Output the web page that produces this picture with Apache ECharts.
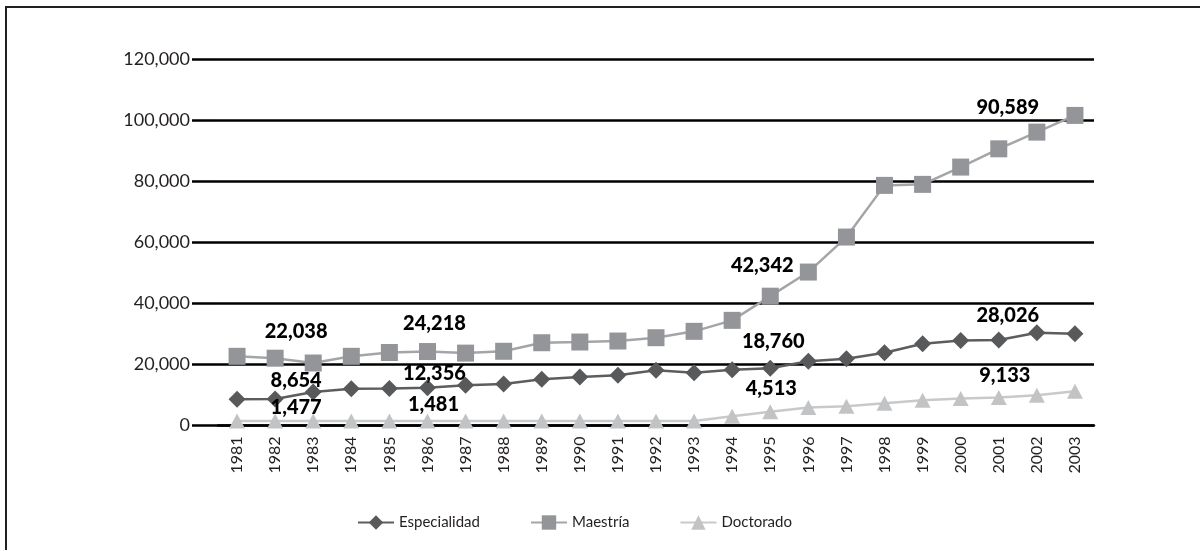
<!DOCTYPE html>
<html>
<head>
<meta charset="utf-8">
<script src="https://cdn.jsdelivr.net/npm/echarts@6/dist/echarts.min.js"></script>
<style>
  html, body { margin: 0; padding: 0; background: #fff; }
  #chart { width: 1200px; height: 550px; }
</style>
</head>
<body>
<div id="chart"></div>
<script>
// Years on the category axis
const years = ['1981','1982','1983','1984','1985','1986','1987','1988','1989','1990','1991','1992',
               '1993','1994','1995','1996','1997','1998','1999','2000','2001','2002','2003'];

// Enrolment by level
const especialidad = [8600, 8654, 10960, 12040, 12100, 12356, 13160, 13600, 15120, 15870, 16430, 18070,
                      17280, 18260, 18760, 21010, 21870, 23830, 26780, 27800, 28026, 30380, 30050];
const maestria = [22650, 22038, 20460, 22650, 23900, 24218, 23700, 24300, 27100, 27330, 27660, 28740,
                  30830, 34430, 42342, 50240, 61700, 78620, 78950, 84610, 90589, 96060, 101530];
const doctorado = [1450, 1477, 1460, 1470, 1475, 1481, 1470, 1480, 1490, 1485, 1490, 1495,
                   1500, 3000, 4513, 5900, 6300, 7300, 8300, 8800, 9133, 9900, 11200];

// Years whose values are printed on the chart
const labelledYears = ['1982', '1986', '1995', '2001'];

// Y-axis ticks
const yMin = 0, yMax = 120000, yStep = 20000;

// Placement of the printed values (pixel offset of the text centre from the marker)
const labelOffsets = {
  'Especialidad': { '1982': [21, -19], '1986': [7, -14], '1995': [3, -27], '2001': [9, -24] },
  'Maestría':     { '1982': [21, -27], '1986': [7, -28], '1995': [-8, -31], '2001': [9, -41] },
  'Doctorado':    { '1982': [21, -13], '1986': [6, -16], '1995': [1, -23], '2001': [6, -22] }
};

const FONT = 'Lato';
const fmt = v => v.toLocaleString('en-US');

function buildData(name, values) {
  return values.map((v, i) => {
    const y = years[i];
    if (labelledYears.indexOf(y) < 0) return v;
    return {
      value: v,
      label: {
        show: true,
        position: 'inside',
        align: 'center',
        verticalAlign: 'middle',
        offset: labelOffsets[name][y],
        formatter: p => fmt(p.value),
        fontFamily: FONT,
        fontWeight: 900,
        fontSize: 20,
        color: '#000'
      }
    };
  });
}

function lineSeries(name, values, symbol, size, markColor, lineColor) {
  return {
    name: name,
    type: 'line',
    data: buildData(name, values),
    symbol: symbol,
    symbolSize: size,
    itemStyle: { color: markColor },
    lineStyle: { color: lineColor, width: 2.5 },
    label: { show: false },
    emphasis: { disabled: true },
    animation: false
  };
}

const chart = echarts.init(document.getElementById('chart'), null, { renderer: 'canvas' });

chart.setOption({
  backgroundColor: '#fff',
  animation: false,
  graphic: [{
    type: 'rect',
    shape: { x: 6, y: 7, width: 1400, height: 800 },
    style: { fill: 'none', stroke: '#231f20', lineWidth: 2 },
    silent: true
  }],
  grid: { left: 218, right: 106, top: 59, bottom: 124.5, containLabel: false },
  legend: {
    left: 352,
    top: 510,
    itemWidth: 36,
    itemHeight: 18,
    itemGap: 50,
    textStyle: { fontFamily: FONT, fontSize: 15, color: '#231f20' },
    data: ['Especialidad', 'Maestría', 'Doctorado']
  },
  xAxis: {
    type: 'category',
    data: years,
    boundaryGap: true,
    axisLine: { show: true, lineStyle: { color: '#000', width: 2.5 } },
    axisTick: { show: false },
    axisLabel: {
      rotate: 90,
      margin: 11,
      fontFamily: FONT,
      fontSize: 16,
      color: '#231f20',
      interval: 0
    },
    splitLine: { show: false }
  },
  yAxis: {
    type: 'value',
    min: yMin,
    max: yMax,
    interval: yStep,
    axisLine: { show: false },
    axisTick: { show: true, inside: false, length: 26, lineStyle: { color: '#000', width: 2.5 } },
    axisLabel: {
      margin: 28,
      fontFamily: FONT,
      fontSize: 18,
      color: '#231f20',
      formatter: v => fmt(v)
    },
    splitLine: { show: true, lineStyle: { color: '#000', width: 2.5 } }
  },
  series: [
    lineSeries('Doctorado', doctorado, 'triangle', [16, 15], '#c2c3c5', '#c8c9cb'),
    lineSeries('Maestría', maestria, 'rect', 17, '#939598', '#a4a5a8'),
    lineSeries('Especialidad', especialidad, 'diamond', [17, 17], '#58595b', '#5c5d5f')
  ]
});
</script>
</body>
</html>
